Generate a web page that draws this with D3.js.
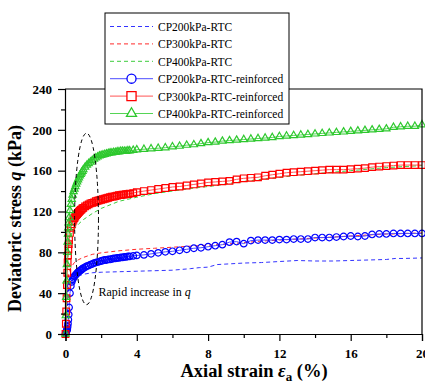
<!DOCTYPE html>
<html>
<head>
<meta charset="utf-8">
<script src="https://cdn.jsdelivr.net/npm/d3@7"></script>
<style>
  body { margin: 0; background: #fff; }
  svg { display: block; }
  svg text { font-family: "Liberation Serif", "Times New Roman", serif; }
</style>
</head>
<body>
<svg id="chart"></svg>
<script>
// strain points of the unreinforced tests (dashed curves)
const strainU = [0, 0.05, 0.1, 0.15, 0.2, 0.3, 0.5, 0.75, 1, 1.5, 2, 3, 4, 5, 6, 7, 7.5, 8, 8.5, 9, 10, 11, 12, 13, 14, 15, 16, 17, 18, 18.5, 19, 20];
const q200U = [0, 15, 30, 42, 50, 53, 55, 57, 58.5, 60, 60.5, 61, 61.5, 62, 62.5, 64, 65, 65.5, 68, 68.5, 69.5, 70, 71, 72, 71.5, 71.5, 72, 72.5, 73, 74, 74, 74.5];
const q300U = [0, 25, 45, 55, 60, 65, 70, 73, 75, 78, 79.5, 81.5, 83, 84, 85, 86, 86.5, 87, 87.5, 88, 89.5, 91, 92, 93, 94, 95, 96, 97, 98, 98, 98.5, 99];
const q400U = [0, 30, 60, 80, 90, 97, 103, 108, 112, 118, 123, 130, 134, 137.5, 140, 142.5, 143.5, 144.5, 145.5, 147, 149.5, 151.5, 153.5, 155.5, 157, 158.5, 160, 161.5, 163, 163.5, 164, 165];

// strain points of the reinforced tests (marked curves)
const strainR = [0, 0.02, 0.04, 0.06, 0.08, 0.1, 0.12, 0.14, 0.16, 0.18, 0.2,
  0.25, 0.3, 0.35, 0.4, 0.45, 0.5, 0.55, 0.6, 0.65, 0.7, 0.75, 0.8, 0.85, 0.9, 0.95, 1.0,
  1.1, 1.2, 1.3, 1.4, 1.5, 1.6, 1.7, 1.8, 1.9, 2.0, 2.1, 2.2, 2.3, 2.4, 2.5, 2.6, 2.7, 2.8, 2.9, 3.0, 3.1, 3.2, 3.3, 3.4, 3.5, 3.6, 3.8,
  4.0, 4.4, 4.8, 5.2, 5.6, 6.0, 6.4, 6.8, 7.2, 7.6, 8.0, 8.4, 8.8, 9.2, 9.6, 10.0, 10.4, 10.8, 11.2, 11.6,
  12.0, 12.4, 12.8, 13.2, 13.6, 14.0, 14.4, 14.8, 15.2, 15.6, 16.0, 16.4, 16.8, 17.2, 17.6, 18.0, 18.4, 18.8, 19.2, 19.6, 20.0];
const q200R = [0, 1, 2, 3, 4, 5, 7, 10, 14, 19, 26,
  40, 47, 51, 53.5, 55, 56.5, 57.5, 58.5, 59.5, 60.5, 61, 62, 62.5, 63, 64, 64.5,
  65.5, 66.5, 67, 68, 68.5, 69.5, 70, 70.5, 71, 71.5, 72, 72.5, 72.5, 73, 73, 73.5, 74, 74, 74.5, 74.5, 75, 75, 75.5, 75.5, 76, 76, 76.5,
  77, 77.5, 78.5, 79.5, 80.5, 81, 82, 83, 84, 84.5, 85.5, 86.5, 87.5, 90, 90.5, 88.5, 91.5, 92, 92, 92,
  92.5, 92.5, 93, 93, 93, 94.5, 94.5, 94.5, 95, 95.5, 96, 95.5, 96, 97.5, 98, 98, 98.5, 98.5, 98.5, 98.5, 98.5];
const q300R = [0, 10, 22, 35, 48, 60, 70, 77, 83, 88, 92,
  99, 104, 107.5, 110, 112, 113.5, 115, 116.5, 117.5, 118.5, 119.5, 120.5, 121.5, 122, 123, 123.5,
  125, 126, 127, 128, 128.5, 129, 130, 130.5, 131, 131.5, 132, 132.5, 133, 133.5, 134, 134.5, 134.5, 135, 135.5, 136, 136, 136.5, 136.5, 137, 137, 137.5, 138,
  139, 140, 141, 142, 143, 144, 144.5, 145.5, 146.5, 147.5, 148.5, 149, 149.5, 150, 151.5, 152.5, 153, 153.5, 155, 156,
  157, 158, 158.5, 159, 159.5, 160, 160.5, 161, 161, 161, 161.5, 162, 162.5, 163.5, 164, 164.5, 165, 165.5, 165.5, 165.5, 165.5];
const q400R = [0, 18, 36, 52, 68, 80, 90, 98, 104, 109, 114,
  121, 127, 132, 136, 139.5, 142, 144.5, 147, 149, 151, 153, 155, 156.5, 158, 159.5, 161,
  163.5, 165.5, 167, 168.5, 170, 171.5, 172.5, 173.5, 174.5, 175, 175.5, 176, 176.5, 177, 177.5, 177.5, 178, 178, 178.5, 178.5, 179, 179, 179, 179, 179.5, 179.5, 180,
  180.5, 181, 181.5, 182, 182.5, 183.5, 184, 185, 185.5, 186.5, 187.5, 188, 189, 189.5, 190, 190.5, 191, 191.5, 192, 192.5,
  193.5, 194, 194.5, 195, 195.5, 196, 196.5, 197, 197.5, 198, 198.5, 199, 199.5, 200, 200.5, 201, 202.5, 203, 203.5, 203.5, 205];

const xTicks = [0, 4, 8, 12, 16, 20];
const yTicks = [0, 40, 80, 120, 160, 200, 240];

// annotation ellipse (strain, q) and its radii in data units
const noteCenter = [1.18, 112.7];
const noteRadii = [0.67, 84];
const notePos = [1.85, 37];

const width = 425, height = 383;
const margin = { top: 89, right: 3, bottom: 49, left: 65 };
const serif = '"Liberation Serif", "Times New Roman", serif';

const svg = d3.select('#chart').attr('width', width).attr('height', height);

const x = d3.scaleLinear().domain([0, 20]).range([margin.left + 0.5, width - margin.right]);
const y = d3.scaleLinear().domain([0, 240]).range([height - margin.bottom, margin.top]);

const series = [
  { name: 'CP200kPa-RTC', xs: strainU, ys: q200U, color: '#3333ff', dashed: true },
  { name: 'CP300kPa-RTC', xs: strainU, ys: q300U, color: '#ff2a2a', dashed: true },
  { name: 'CP400kPa-RTC', xs: strainU, ys: q400U, color: '#3ccc3c', dashed: true },
  { name: 'CP200kPa-RTC-reinforced', xs: strainR, ys: q200R, color: '#0000ff', line: '#4d4dff', marker: 'circle' },
  { name: 'CP300kPa-RTC-reinforced', xs: strainR, ys: q300R, color: '#ff0000', line: '#ff5555', marker: 'square' },
  { name: 'CP400kPa-RTC-reinforced', xs: strainR, ys: q400R, color: '#2ec82e', line: '#55d555', marker: 'triangle' }
];

const symbolFor = { circle: d3.symbolCircle, square: d3.symbolSquare, triangle: d3.symbolTriangle };
const symbolSize = { circle: 34, square: 44, triangle: 23 };

const line = d3.line().x(d => x(d[0])).y(d => y(d[1]));

// curves
series.forEach(s => {
  const pts = s.xs.map((v, i) => [v, s.ys[i]]);
  svg.append('path')
    .attr('d', line(pts))
    .attr('fill', 'none')
    .attr('stroke', s.dashed ? s.color : s.line)
    .attr('stroke-width', 1)
    .attr('stroke-dasharray', s.dashed ? '4,3' : null);
  if (s.marker) {
    svg.append('g').selectAll('path')
      .data(pts)
      .enter().append('path')
      .attr('transform', d => `translate(${x(d[0])},${y(d[1])})`)
      .attr('d', d3.symbol().type(symbolFor[s.marker]).size(symbolSize[s.marker]))
      .attr('fill', 'none')
      .attr('stroke', s.color)
      .attr('stroke-width', 1.2);
  }
});

// axes
const xAxis = svg.append('g')
  .attr('transform', `translate(0,${height - margin.bottom})`)
  .call(d3.axisBottom(x).tickValues(xTicks).tickSize(7).tickFormat(d3.format('d')));
svg.append('g')
  .attr('transform', `translate(0,${height - margin.bottom})`)
  .call(d3.axisBottom(x).tickValues(d3.range(2, 20, 4)).tickSize(4).tickFormat(''))
  .call(g => g.select('.domain').remove());

const yAxis = svg.append('g')
  .attr('transform', `translate(${margin.left},0)`)
  .call(d3.axisLeft(y).tickValues(yTicks).tickSize(7));
svg.append('g')
  .attr('transform', `translate(${margin.left},0)`)
  .call(d3.axisLeft(y).tickValues(d3.range(20, 240, 40)).tickSize(4).tickFormat(''))
  .call(g => g.select('.domain').remove());

[xAxis, yAxis].forEach(g => {
  g.select('.domain').attr('stroke', '#000').attr('stroke-width', 1.2);
  g.selectAll('.tick text')
    .attr('font-family', serif)
    .attr('font-size', 13)
    .attr('font-weight', 'bold')
    .attr('fill', '#000');
});
xAxis.selectAll('.tick text').attr('dy', '1.05em');
yAxis.selectAll('.tick text').attr('x', -13);
svg.selectAll('.tick line').attr('stroke', '#000').attr('stroke-width', 1.2);

// top and right frame
svg.append('path')
  .attr('d', `M${margin.left},${margin.top}H${width - margin.right}V${height - margin.bottom}`)
  .attr('fill', 'none')
  .attr('stroke', '#000')
  .attr('stroke-width', 1.2);

// annotation
svg.append('ellipse')
  .attr('cx', x(noteCenter[0]))
  .attr('cy', y(noteCenter[1]))
  .attr('rx', x(noteRadii[0]) - x(0))
  .attr('ry', y(0) - y(noteRadii[1]))
  .attr('fill', 'none')
  .attr('stroke', '#000')
  .attr('stroke-width', 1)
  .attr('stroke-dasharray', '4,3');

const note = svg.append('text')
  .attr('x', x(notePos[0]))
  .attr('y', y(notePos[1]))
  .attr('font-family', serif)
  .attr('font-size', 12)
  .attr('fill', '#000');
note.append('tspan').text('Rapid increase in ');
note.append('tspan').attr('font-style', 'italic').text('q');

// axis titles
const xt = svg.append('text')
  .attr('x', 254)
  .attr('y', 377)
  .attr('text-anchor', 'middle')
  .attr('font-family', serif)
  .attr('font-size', 18.5)
  .attr('font-weight', 'bold');
xt.append('tspan').text('Axial strain ');
xt.append('tspan').attr('font-style', 'italic').text('ε');
xt.append('tspan').attr('font-size', 13).attr('dy', 4).text('a');
xt.append('tspan').attr('dy', -4).text(' (%)');

const yt = svg.append('text')
  .attr('transform', `translate(21,${(margin.top + height - margin.bottom) / 2 + 7}) rotate(-90)`)
  .attr('text-anchor', 'middle')
  .attr('font-family', serif)
  .attr('font-size', 18)
  .attr('font-weight', 'bold');
yt.append('tspan').text('Deviatoric stress ');
yt.append('tspan').attr('font-style', 'italic').text('q');
yt.append('tspan').text(' (kPa)');

// legend
const legend = svg.append('g').attr('transform', 'translate(105,13)');
legend.append('rect')
  .attr('width', 184)
  .attr('height', 111)
  .attr('fill', '#fff')
  .attr('stroke', '#000')
  .attr('stroke-width', 1);

const rows = legend.selectAll('g.row')
  .data(series)
  .enter().append('g')
  .attr('class', 'row')
  .attr('transform', (d, i) => `translate(0,${13.5 + i * 17.4})`);

rows.append('line')
  .attr('x1', 5).attr('x2', 48)
  .attr('stroke', d => d.dashed ? d.color : d.line)
  .attr('stroke-width', 1)
  .attr('stroke-dasharray', d => d.dashed ? '4,3' : null);

rows.filter(d => d.marker).append('path')
  .attr('transform', 'translate(26.5,0)')
  .attr('d', d => d3.symbol().type(symbolFor[d.marker]).size(symbolSize[d.marker] * 1.9)())
  .attr('fill', '#fff')
  .attr('stroke', d => d.color)
  .attr('stroke-width', 1.3);

rows.append('text')
  .attr('x', 53)
  .attr('y', 4.5)
  .attr('font-family', serif)
  .attr('font-size', 11.5)
  .attr('fill', '#000')
  .text(d => d.name);
</script>
</body>
</html>
